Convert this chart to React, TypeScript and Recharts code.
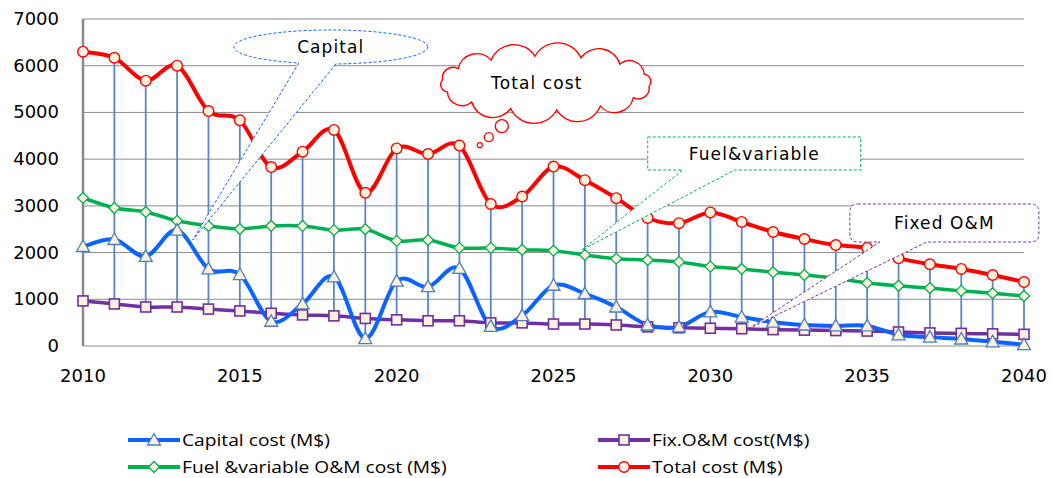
import React from 'react';
import { LineChart, Line, XAxis, YAxis, CartesianGrid, ReferenceLine, ReferenceDot } from 'recharts';

const years = [2010, 2011, 2012, 2013, 2014, 2015, 2016, 2017, 2018, 2019, 2020, 2021, 2022, 2023, 2024, 2025, 2026, 2027, 2028, 2029, 2030, 2031, 2032, 2033, 2034, 2035, 2036, 2037, 2038, 2039, 2040];
const capitalCost = [2130, 2280, 1920, 2480, 1650, 1530, 530, 900, 1480, 160, 1390, 1270, 1660, 420, 650, 1300, 1120, 835, 450, 410, 730, 620, 510, 450, 430, 430, 240, 190, 150, 90, 30];
const fixOmCost = [965, 900, 835, 835, 790, 750, 700, 665, 645, 590, 560, 540, 540, 495, 495, 470, 470, 450, 410, 390, 380, 370, 350, 340, 330, 320, 300, 280, 270, 260, 250];
const fuelVarCost = [3170, 2955, 2870, 2680, 2570, 2505, 2570, 2570, 2480, 2500, 2250, 2270, 2100, 2100, 2060, 2040, 1950, 1870, 1840, 1800, 1700, 1650, 1580, 1520, 1450, 1350, 1290, 1240, 1180, 1130, 1070];
const totalCost = [6300, 6170, 5680, 6000, 5030, 4830, 3830, 4160, 4625, 3280, 4230, 4110, 4290, 3040, 3200, 3840, 3550, 3165, 2740, 2630, 2860, 2655, 2440, 2290, 2160, 2100, 1880, 1750, 1650, 1520, 1370];

const yTicks = [0, 1000, 2000, 3000, 4000, 5000, 6000, 7000];
const xTicks = [2010, 2015, 2020, 2025, 2030, 2035, 2040];

const data = years.map((year, i) => ({
  year,
  capital: capitalCost[i],
  fix: fixOmCost[i],
  fuel: fuelVarCost[i],
  total: totalCost[i],
  low: Math.min(capitalCost[i], fixOmCost[i], fuelVarCost[i], totalCost[i]),
  high: Math.max(capitalCost[i], fixOmCost[i], fuelVarCost[i], totalCost[i]),
}));

const MARKER_FILL = '#fbf1dc';
const BLUE = '#0a64ff';
const PURPLE = '#7030a0';
const GREEN = '#00b050';
const RED = '#ff0000';
const HILO = '#5b87c5';
const GRID = '#8a8a8a';

// Excel style smoothed line (Catmull-Rom through the points)
const excelSmooth = (context: any) => {
  let pts: number[][] = [];
  return {
    areaStart() {},
    areaEnd() {},
    lineStart() { pts = []; },
    point(x: number, y: number) { pts.push([+x, +y]); },
    lineEnd() {
      const n = pts.length;
      if (!n) return;
      context.moveTo(pts[0][0], pts[0][1]);
      const t = 1 / 6;
      for (let i = 0; i < n - 1; i++) {
        const p0 = pts[i - 1] || pts[i];
        const p1 = pts[i];
        const p2 = pts[i + 1];
        const p3 = pts[i + 2] || p2;
        context.bezierCurveTo(
          p1[0] + (p2[0] - p0[0]) * t, p1[1] + (p2[1] - p0[1]) * t,
          p2[0] - (p3[0] - p1[0]) * t, p2[1] - (p3[1] - p1[1]) * t,
          p2[0], p2[1]
        );
      }
    },
  };
};

const markerShape = (kind: string, stroke: string, cx: number, cy: number, key?: any) => {
  if (kind === 'triangle') {
    return <path key={key} d={`M${cx},${cy - 6.5} L${cx + 6.5},${cy + 5} L${cx - 6.5},${cy + 5} Z`} fill={MARKER_FILL} stroke={stroke} strokeWidth={1.3} />;
  }
  if (kind === 'square') {
    return <rect key={key} x={cx - 5} y={cy - 5} width={10} height={10} fill={MARKER_FILL} stroke={stroke} strokeWidth={1.6} />;
  }
  if (kind === 'diamond') {
    return <path key={key} d={`M${cx},${cy - 5.5} L${cx + 5.5},${cy} L${cx},${cy + 5.5} L${cx - 5.5},${cy} Z`} fill={MARKER_FILL} stroke={stroke} strokeWidth={1.3} />;
  }
  return <circle key={key} cx={cx} cy={cy} r={5.3} fill={MARKER_FILL} stroke={stroke} strokeWidth={1.4} />;
};

const makeDot = (kind: string, stroke: string) => (props: any) => markerShape(kind, stroke, props.cx, props.cy, props.index);

const YTick = (props: any) => {
  const { x, y, payload } = props;
  return (
    <text x={x} y={y} dx={-12} dy={6} textAnchor="end" fontFamily="DejaVu Sans" fontSize={18} fill="#000">
      {payload.value}
    </text>
  );
};

const XTick = (props: any) => {
  const { x, y, payload } = props;
  return (
    <text x={x} y={y} dy={11} textAnchor="middle" fontFamily="DejaVu Sans" fontSize={18} fill="#000">
      {payload.value}
    </text>
  );
};

const calloutText = { fontFamily: 'DejaVu Sans', fontSize: 17, letterSpacing: 1.1, fill: '#000' };

const CapitalCallout = (props: any) => {
  const { cx, cy } = props;
  return (
    <g>
      <ellipse cx={cx + 138} cy={cy - 193} rx={97} ry={17} fill="#fff" stroke={BLUE} strokeWidth={1} strokeDasharray="3 2" />
      <path d={`M${cx + 106},${cy - 178} L${cx},${cy} L${cx + 144},${cy - 178} Z`} fill="#fff" stroke="none" />
      <path d={`M${cx + 106},${cy - 177} L${cx},${cy} L${cx + 144},${cy - 177}`} fill="none" stroke={BLUE} strokeWidth={1} strokeDasharray="3 2" />
      <text x={cx + 138} y={cy - 187} textAnchor="middle" {...calloutText}>Capital</text>
    </g>
  );
};

const cloudPath = (cx: number, cy: number, rx: number, ry: number, n: number) => {
  const pts: number[][] = [];
  for (let i = 0; i < n; i++) {
    const a = (Math.PI * 2 * i) / n + 0.12;
    pts.push([cx + rx * Math.cos(a), cy + ry * Math.sin(a)]);
  }
  let d = `M${pts[0][0]},${pts[0][1]}`;
  for (let i = 0; i < n; i++) {
    const a = pts[i];
    const b = pts[(i + 1) % n];
    const chord = Math.hypot(b[0] - a[0], b[1] - a[1]);
    const r = chord * 0.56;
    d += ` A${r},${r} 0 0 1 ${b[0]},${b[1]}`;
  }
  return d + ' Z';
};

const TotalCallout = (props: any) => {
  const { cx, cy } = props;
  return (
    <g>
      <path d={cloudPath(cx + 66, cy - 62, 104, 27, 14)} fill="#fff" stroke={RED} strokeWidth={1.4} />
      <circle cx={cx + 22} cy={cy - 19} r={6.5} fill="#fff" stroke={RED} strokeWidth={1.4} />
      <circle cx={cx + 9} cy={cy - 8} r={4.5} fill="#fff" stroke={RED} strokeWidth={1.4} />
      <circle cx={cx} cy={cy} r={2.5} fill="#fff" stroke={RED} strokeWidth={1.2} />
      <text x={cx + 57} y={cy - 56} textAnchor="middle" {...calloutText}>Total cost</text>
    </g>
  );
};

const FuelCallout = (props: any) => {
  const { cx, cy } = props;
  const L = cx + 66, T = cy - 113, R = cx + 279, B = cy - 80;
  return (
    <g>
      <path d={`M${L},${T} H${R} V${B} H${cx + 153} L${cx},${cy} L${cx + 101},${B} H${L} Z`} fill="#fff" stroke={GREEN} strokeWidth={1} strokeDasharray="3 2" />
      <text x={(L + R) / 2} y={T + 23} textAnchor="middle" {...calloutText}>Fuel&amp;variable</text>
    </g>
  );
};

const FixedCallout = (props: any) => {
  const { cx, cy } = props;
  const L = cx + 100, T = cy - 124, R = cx + 289, B = cy - 86, r = 8;
  const d = `M${L + r},${T} H${R - r} Q${R},${T} ${R},${T + r} V${B - r} Q${R},${B} ${R - r},${B} H${cx + 177} L${cx},${cy} L${cx + 130},${B} H${L + r} Q${L},${B} ${L},${B - r} V${T + r} Q${L},${T} ${L + r},${T} Z`;
  return (
    <g>
      <path d={d} fill="#fff" stroke={PURPLE} strokeWidth={1} strokeDasharray="3 2" />
      <text x={(L + R) / 2} y={T + 25} textAnchor="middle" {...calloutText}>Fixed O&amp;M</text>
    </g>
  );
};

const legendItems = [
  { label: 'Capital cost (M$)', kind: 'triangle', color: BLUE, marker: '#4a7ebb', left: 128, top: 440 },
  { label: 'Fix.O&M cost(M$)', kind: 'square', color: PURPLE, marker: PURPLE, left: 598, top: 440 },
  { label: 'Fuel &variable O&M cost (M$)', kind: 'diamond', color: GREEN, marker: GREEN, left: 128, top: 467 },
  { label: 'Total cost (M$)', kind: 'circle', color: RED, marker: RED, left: 598, top: 467 },
];

const App = () => {
  return (
    <div style={{ position: 'absolute', left: 0, top: 0, width: 1052, height: 478, background: '#fff' }}>
      <LineChart width={1052} height={478} data={data} margin={{ top: 19, right: 28, left: 0, bottom: 102 }}>
        <CartesianGrid vertical={false} stroke={GRID} strokeWidth={1} />
        <XAxis
          dataKey="year"
          type="number"
          domain={[2010, 2040]}
          ticks={xTicks}
          height={30}
          axisLine={false}
          tickLine={false}
          tickSize={0}
          tickMargin={25}
          tick={<XTick />}
        />
        <YAxis
          domain={[0, 7000]}
          ticks={yTicks}
          width={83}
          axisLine={{ stroke: GRID, strokeWidth: 2.5 }}
          tickLine={false}
          tickSize={0}
          tickMargin={12}
          tick={<YTick />}
        />
        {data.map((d) => (
          <ReferenceLine
            key={`hl-${d.year}`}
            segment={[{ x: d.year, y: d.low }, { x: d.year, y: d.high }]}
            stroke={HILO}
            strokeWidth={1.8}
          />
        ))}
        <Line dataKey="fix" type={excelSmooth as any} stroke={PURPLE} strokeWidth={3.5} dot={makeDot('square', PURPLE)} activeDot={false} isAnimationActive={false} />
        <Line dataKey="fuel" type={excelSmooth as any} stroke={GREEN} strokeWidth={3.5} dot={makeDot('diamond', GREEN)} activeDot={false} isAnimationActive={false} />
        <Line dataKey="capital" type={excelSmooth as any} stroke={BLUE} strokeWidth={4} dot={makeDot('triangle', '#4a7ebb')} activeDot={false} isAnimationActive={false} />
        <Line dataKey="total" type={excelSmooth as any} stroke={RED} strokeWidth={4} dot={makeDot('circle', RED)} activeDot={false} isAnimationActive={false} />
        <ReferenceDot x={2013.5} y={2270} r={0} shape={CapitalCallout} />
        <ReferenceDot x={2022.65} y={4300} r={0} shape={TotalCallout} />
        <ReferenceDot x={2025.9} y={2055} r={0} shape={FuelCallout} />
        <ReferenceDot x={2031.26} y={385} r={0} shape={FixedCallout} />
      </LineChart>
      {legendItems.map((item) => (
        <div
          key={item.label}
          style={{
            position: 'absolute',
            left: item.left,
            top: item.top - 11,
            height: 22,
            display: 'flex',
            alignItems: 'center',
            fontFamily: 'Open Sans',
            fontSize: 16,
            color: '#000',
            whiteSpace: 'nowrap',
          }}
        >
          <svg width={52} height={22} style={{ marginRight: 2 }}>
            <line x1={0} y1={11} x2={52} y2={11} stroke={item.color} strokeWidth={4} />
            {markerShape(item.kind, item.marker, 26, 11)}
          </svg>
          <span style={{ display: 'inline-block', transform: 'scaleX(1.2)', transformOrigin: 'left center' }}>{item.label}</span>
        </div>
      ))}
    </div>
  );
};

export default App;
